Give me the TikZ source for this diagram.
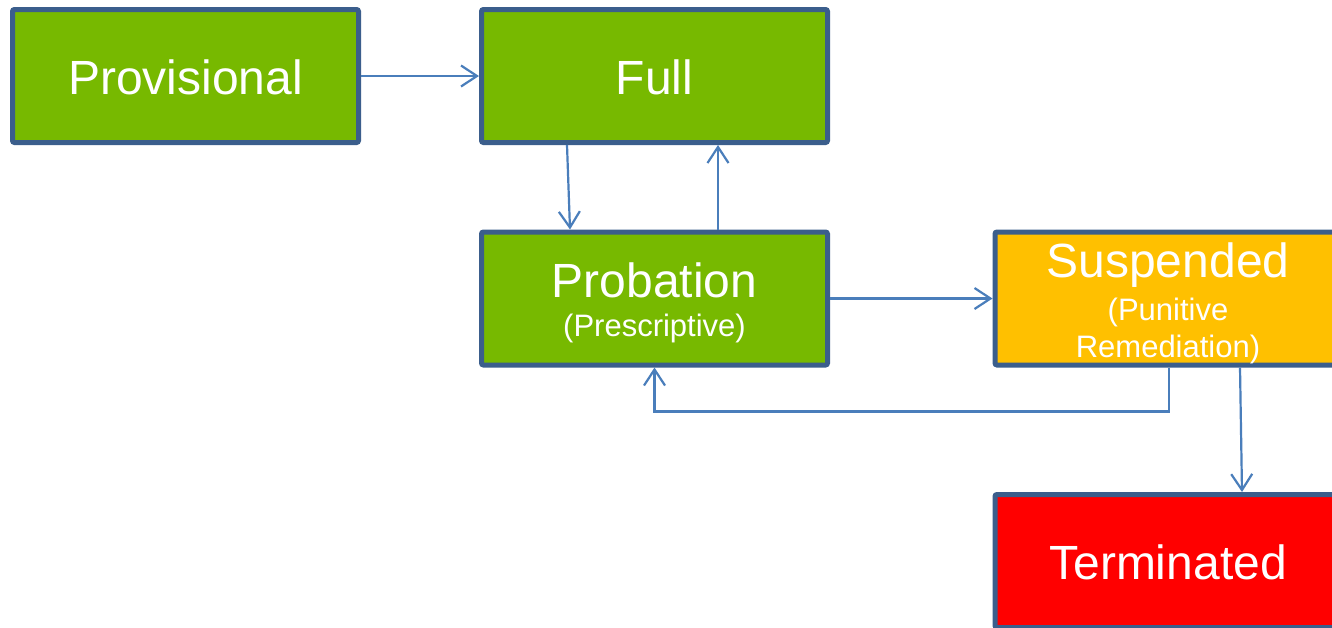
\documentclass[tikz,border=0pt]{standalone}
\usepackage{fontspec}
\setmainfont{Liberation Sans}
\usetikzlibrary{arrows.meta}
\definecolor{boxgreen}{HTML}{77B900}
\definecolor{boxorange}{HTML}{FFC000}
\definecolor{boxred}{HTML}{FF0000}
\definecolor{boxedge}{HTML}{3B5E8C}
\definecolor{arrowblue}{HTML}{4A7EBB}
\tikzset{
  statebox/.style={draw=boxedge, line width=5pt, rounded corners=2pt,
    minimum width=346pt, minimum height=133pt, inner sep=0pt,
    text=white, align=center, font=\fontsize{48}{50}\selectfont},
  conn/.style={draw=arrowblue, line width=2.2pt,
    -{Straight Barb[length=16pt,width=21pt,line width=2.2pt]}},
  subfont/.style={font=\fontsize{31}{37}\selectfont}
}
\begin{document}
\begin{tikzpicture}[x=1pt,y=-1pt]
\useasboundingbox (0,0) rectangle (1332,627);
\clip (0,0) rectangle (1332,627);
\fill[white] (0,0) rectangle (1332,627);
\node[statebox, fill=boxgreen] (prov) at (185.5,76) {\rule{0pt}{38pt}Provisional};
\node[statebox, fill=boxgreen] (full) at (654.5,76) {\rule{0pt}{38pt}Full};
\node[statebox, fill=boxgreen, subfont] (prob) at (654.5,298.5)
  {{\fontsize{48}{50}\selectfont\rule{0pt}{43pt}Probation}\\[2pt](Prescriptive)};
\node[statebox, fill=boxorange, subfont] (susp) at (1168,298.5)
  {{\fontsize{48}{50}\selectfont\rule{0pt}{44pt}Suspended}\\[6pt](Punitive\\Remediation)};
\node[statebox, fill=boxred] (term) at (1168,561) {\rule{0pt}{38pt}Terminated};
\draw[conn] (prov.east) -- (full.west);
\draw[conn] ([xshift=-87.5pt]full.south) -- ([xshift=-84.5pt]prob.north);
\draw[conn] ([xshift=63.5pt]prob.north) -- ([xshift=63.5pt]full.south);
\draw[conn] (prob.east) -- (susp.west);
\draw[conn] ([xshift=1pt]susp.south) -- ++(0,44) -| (prob.south);
\draw[conn] ([xshift=72pt]susp.south) -- ([xshift=74pt]term.north);
\end{tikzpicture}
\end{document}
